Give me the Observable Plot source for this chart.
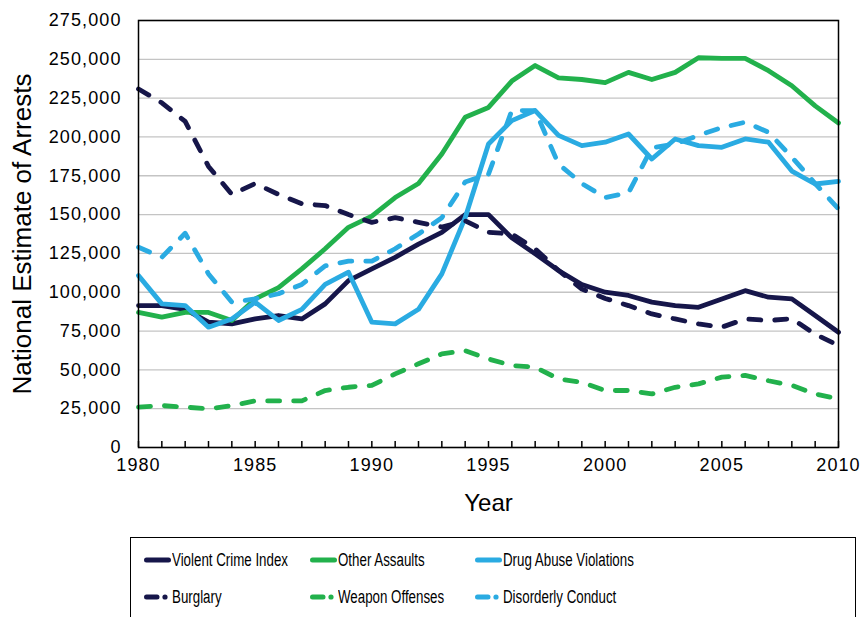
<!DOCTYPE html>
<html>
<head>
<meta charset="utf-8">
<script src="https://cdn.jsdelivr.net/npm/d3@7"></script>
<script src="https://cdn.jsdelivr.net/npm/@observablehq/plot@0.6"></script>
<style>
  html, body { margin: 0; padding: 0; background: #fff; }
  #wrap { position: relative; width: 864px; height: 617px; overflow: hidden; }
  #chart svg g[aria-label="y-axis tick label"] text,
  #chart svg g[aria-label="x-axis tick label"] text { letter-spacing: 1.1px; }
  #legend { position: absolute; left: 130px; top: 537px; width: 726px; height: 100px;
            border: 1.5px solid #000; box-sizing: border-box; }
  .item { position: absolute; display: flex; align-items: center; height: 20px;
          font-family: "Liberation Sans", Arial, sans-serif;
          font-size: 18px; color: #000; white-space: nowrap; }
  .item svg { display: block; margin-right: 1px; }
  .item span { display: inline-block; transform: scaleX(0.74); transform-origin: left center; }
</style>
</head>
<body>
<div id="wrap">
  <div id="chart"></div>
  <div id="legend"></div>
</div>
<script>
const years = [1980,1981,1982,1983,1984,1985,1986,1987,1988,1989,1990,
               1991,1992,1993,1994,1995,1996,1997,1998,1999,2000,
               2001,2002,2003,2004,2005,2006,2007,2008,2009,2010];
const xTickLabels = [1980, 1985, 1990, 1995, 2000, 2005, 2010];
const yTickValues = [0, 25000, 50000, 75000, 100000, 125000, 150000, 175000, 200000, 225000, 250000, 275000];

const violentCrimeIndex = [91400,91400,89000,80700,79600,82800,85000,82800,92500,107500,115000,
  122500,131000,138600,150000,150000,135000,124700,114000,105000,100000,
  97900,93600,91400,90300,95700,101000,96800,95700,85000,74200];
const otherAssaults = [87000,84000,87000,87000,81800,95700,103000,115000,128000,141800,149000,
  161000,170000,189000,212700,219000,236000,246000,238000,237000,235000,
  241600,237000,241600,251000,250600,250600,242700,233000,220000,209000];
const drugAbuseViolations = [110700,92500,91400,77500,82800,93600,81800,89000,105000,112900,80700,
  79600,89000,111800,148000,195500,210500,217000,201000,194400,196600,
  201900,185800,198700,194400,193300,198700,196600,178000,169700,171400];
const burglary = [230900,222000,210000,181000,163000,170000,163000,157000,155800,150000,145000,
  148000,145000,142000,146000,138600,137500,128000,114000,102000,96000,
  91400,86000,82800,79600,77500,82800,81800,83000,73000,65700];
const weaponOffenses = [26000,27000,26000,24900,27000,30000,30000,30000,36700,38800,40000,
  47400,53900,60300,62400,57000,52800,51700,44200,42000,36700,
  36700,34500,38800,41000,45300,46400,43000,40000,34500,31300];
const disorderlyConduct = [129000,122500,138000,111800,93600,95700,99000,105000,117000,120000,120000,
  128000,137500,148000,171000,176000,217000,217000,182600,170000,161000,
  164000,193000,195500,201000,206000,209500,203000,187000,170000,153600];

const NAVY = "#16164a", GREEN = "#22b14c", BLUE = "#2aabe2";
const series = [
  {name: "Violent Crime Index", values: violentCrimeIndex, color: NAVY, dashed: false},
  {name: "Other Assaults", values: otherAssaults, color: GREEN, dashed: false},
  {name: "Drug Abuse Violations", values: drugAbuseViolations, color: BLUE, dashed: false},
  {name: "Burglary", values: burglary, color: NAVY, dashed: true},
  {name: "Weapon Offenses", values: weaponOffenses, color: GREEN, dashed: true},
  {name: "Disorderly Conduct", values: disorderlyConduct, color: BLUE, dashed: true}
];

const lineMarks = series.map(s => Plot.lineY(
  years.map((y, i) => ({year: y, value: s.values[i]})),
  {x: "year", y: "value", stroke: s.color, strokeWidth: 4.8,
   strokeLinejoin: "round", strokeLinecap: "round",
   strokeDasharray: s.dashed ? "12,14" : null}
));

const chart = Plot.plot({
  width: 864, height: 530,
  marginLeft: 138, marginRight: 26, marginTop: 20, marginBottom: 83,
  style: {fontFamily: "Liberation Sans, Arial, sans-serif", fontSize: "18px", color: "#000", background: "#fff"},
  x: {domain: [1980, 2010]},
  y: {domain: [0, 275000]},
  marks: [
    Plot.gridY(yTickValues, {stroke: "#c4c4c4", strokeOpacity: 1, strokeWidth: 1.3}),
    Plot.tickX(years, {x: d => d, insetTop: 421, stroke: "#000", strokeWidth: 1.5}),
    Plot.axisY(yTickValues, {tickSize: 0, tickPadding: 17, tickFormat: d3.format(","), label: null}),
    Plot.axisX(xTickLabels, {tickSize: 0, tickPadding: 11, tickFormat: d => String(d), label: null}),
    ...lineMarks,
    Plot.frame({stroke: "#000", strokeWidth: 1.5}),
    Plot.text(["National Estimate of Arrests"], {text: d => d, frameAnchor: "left", dx: -116, rotate: -90,
      textAnchor: "middle", fontSize: 26, fill: "#000"}),
    Plot.text(["Year"], {text: d => d, frameAnchor: "bottom", dy: 63,
      textAnchor: "middle", fontSize: 24, fill: "#000"})
  ]
});
document.getElementById("chart").appendChild(chart);

// Legend (HTML, below the SVG)
const legend = document.getElementById("legend");
const colLeft = [13, 179, 344];
const rowTop = [12, 49];
series.forEach((s, i) => {
  const col = i % 3, row = Math.floor(i / 3);
  const div = document.createElement("div");
  div.className = "item";
  div.style.left = colLeft[col] + "px";
  div.style.top = rowTop[row] + "px";
  const sw = s.dashed
    ? `<svg width="27" height="10"><line x1="2.5" y1="5" x2="13" y2="5" stroke="${s.color}" stroke-width="5" stroke-linecap="round"/><circle cx="21" cy="5" r="2.6" fill="${s.color}"/></svg>`
    : `<svg width="27" height="10"><line x1="2.5" y1="5" x2="24.5" y2="5" stroke="${s.color}" stroke-width="5" stroke-linecap="round"/></svg>`;
  div.innerHTML = sw + `<span>${s.name}</span>`;
  legend.appendChild(div);
});
</script>
</body>
</html>
